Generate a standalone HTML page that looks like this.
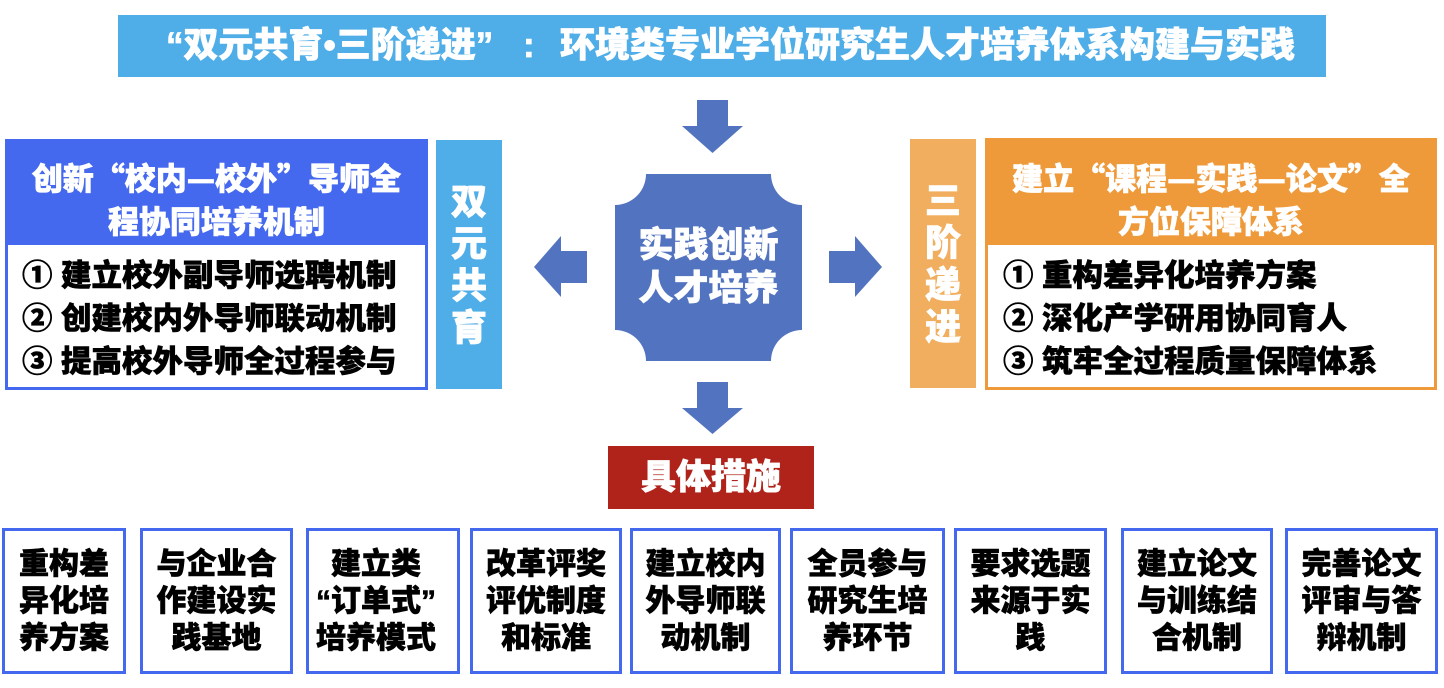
<!DOCTYPE html>
<html>
<head>
<meta charset="utf-8">
<style>
  html,body{margin:0;padding:0;background:#fff;}
  body{width:1444px;height:688px;position:relative;overflow:hidden;
       font-family:"Liberation Sans","Noto Sans CJK SC",sans-serif;font-weight:900;}
  .abs{position:absolute;}
  .cjk{font-family:"Noto Sans CJK SC","Liberation Sans",sans-serif;}
  .line{position:absolute;white-space:nowrap;}
  .w{color:#fff;-webkit-text-stroke:0.7px #fff;}
  .k{color:#000;-webkit-text-stroke:0.6px #000;}
  .bb{position:absolute;top:528px;height:140px;border:3px solid #4468EE;background:#fff;
      display:flex;align-items:center;justify-content:center;text-align:center;
      font-size:30px;line-height:37px;color:#000;-webkit-text-stroke:0.6px #000;}
  .bb div{white-space:nowrap;}
</style>
</head>
<body>

<!-- Title bar -->
<div class="abs" style="left:118px;top:15px;width:1208px;height:62px;background:#4FADE8;"></div>
<div class="line w" style="left:166px;top:15px;height:62px;line-height:62px;font-size:35px;">“双元共育•三阶递进”</div>
<div class="line w" style="left:523px;top:15px;height:62px;line-height:62px;font-size:35px;">:</div>
<div class="line w" style="left:560px;top:15px;height:62px;line-height:62px;font-size:35px;">环境类专业学位研究生人才培养体系构建与实践</div>

<!-- Arrows and center shape -->
<svg class="abs" style="left:0;top:0;" width="1444" height="688" viewBox="0 0 1444 688">
  <polygon fill="#5273BF" points="697,100 728,100 728,126 743,126 712.5,153 682,126 697,126"/>
  <polygon fill="#5273BF" points="697,382 728,382 728,408 743,408 712.5,434 682,408 697,408"/>
  <polygon fill="#5273BF" points="587,251 561,251 561,236 534,267 561,297 561,283 587,283"/>
  <polygon fill="#5273BF" points="829,251 855,251 855,236 882,267 855,297 855,283 829,283"/>
  <path fill="#5273BF" d="M646 174 L771 174 A31 31 0 0 0 802 205 L802 330 A31 31 0 0 0 771 361 L646 361 A31 31 0 0 0 615 330 L615 205 A31 31 0 0 0 646 174 Z"/>
</svg>

<!-- Center text -->
<div class="line w" style="left:615px;width:187px;top:224px;line-height:43px;font-size:35px;text-align:center;">实践创新<br>人才培养</div>

<!-- 具体措施 -->
<div class="abs" style="left:608px;top:446px;width:206px;height:63px;background:#AF231B;"></div>
<div class="line w" style="left:608px;width:206px;top:446px;height:63px;line-height:63px;font-size:35px;text-align:center;">具体措施</div>

<!-- Left box -->
<div class="abs" style="left:5px;top:139px;width:417px;height:245px;border:3px solid #4468EE;background:#fff;">
  <div class="abs" style="left:0;top:0;width:417px;height:103px;background:#4468EE;"></div>
  <div class="line cjk w" style="left:0;width:417px;top:13px;line-height:43px;font-size:31px;text-align:center;">创新“校内—校外”导师全<br>程协同培养机制</div>
  <div class="line k" style="left:14px;top:113px;line-height:43px;font-size:30.5px;">① 建立校外副导师选聘机制<br>② 创建校内外导师联动机制<br>③ 提高校外导师全过程参与</div>
</div>

<!-- 双元共育 -->
<div class="abs" style="left:436px;top:140px;width:66px;height:249px;background:#4FADE8;display:flex;align-items:center;justify-content:center;">
  <div class="w" style="font-size:36px;line-height:42px;width:40px;text-align:center;">双<br>元<br>共<br>育</div>
</div>

<!-- 三阶递进 -->
<div class="abs" style="left:910px;top:139px;width:66px;height:249px;background:#F0AE5E;display:flex;align-items:center;justify-content:center;">
  <div class="w" style="font-size:36px;line-height:42px;width:40px;text-align:center;">三<br>阶<br>递<br>进</div>
</div>

<!-- Right box -->
<div class="abs" style="left:985px;top:138px;width:446px;height:246px;border:3px solid #EF9A3A;background:#fff;">
  <div class="abs" style="left:0;top:0;width:446px;height:104px;background:#EF9A3A;"></div>
  <div class="line cjk w" style="left:0;width:446px;top:14px;line-height:43px;font-size:31px;text-align:center;">建立“课程—实践—论文”全<br>方位保障体系</div>
  <div class="line k" style="left:15px;top:114px;line-height:43px;font-size:30.5px;">① 重构差异化培养方案<br>② 深化产学研用协同育人<br>③ 筑牢全过程质量保障体系</div>
</div>

<!-- Bottom boxes -->
<div class="bb" style="left:2px;width:118px;"><div>重构差<br>异化培<br>养方案</div></div>
<div class="bb" style="left:140px;width:147px;"><div>与企业合<br>作建设实<br>践基地</div></div>
<div class="bb" style="left:306px;width:148px;"><div style="margin-right:14px;">建立类<br>“订单式”<br>培养模式</div></div>
<div class="bb" style="left:470px;width:146px;"><div>改革评奖<br>评优制度<br>和标准</div></div>
<div class="bb" style="left:630px;width:145px;"><div>建立校内<br>外导师联<br>动机制</div></div>
<div class="bb" style="left:790px;width:149px;"><div>全员参与<br>研究生培<br>养环节</div></div>
<div class="bb" style="left:954px;width:147px;"><div>要求选题<br>来源于实<br>践</div></div>
<div class="bb" style="left:1121px;width:146px;"><div>建立论文<br>与训练结<br>合机制</div></div>
<div class="bb" style="left:1285px;width:147px;"><div>完善论文<br>评审与答<br>辩机制</div></div>

</body>
</html>
